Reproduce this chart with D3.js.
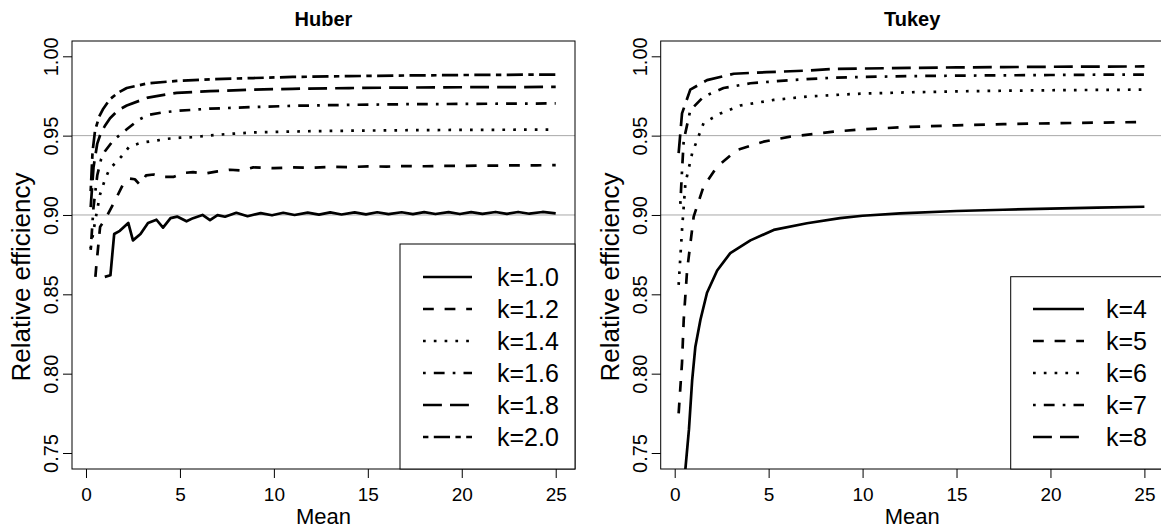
<!DOCTYPE html>
<html><head><meta charset="utf-8">
<script src="https://cdn.jsdelivr.net/npm/d3@7"></script>
<style>body{margin:0;background:#fff}</style>
</head><body>
<svg id="c" width="1161" height="528"></svg>
<script>
// ---------- Huber panel data ----------
const huberLabels = ["k=1.0","k=1.2","k=1.4","k=1.6","k=1.8","k=2.0"];
const hubX10 = [1.0,1.3,1.5,1.8,2.25,2.5,2.9,3.3,3.75,4.1,4.5,4.85,5.35,5.7,6.2,6.6,7.0,7.4,8.0,8.6,9.3,9.9,10.5,11.1,11.8,12.4,13.0,13.6,14.3,14.9,15.5,16.1,16.8,17.4,18.0,18.6,19.3,19.9,20.5,21.1,21.8,22.4,23.0,23.6,24.3,25.0];
const hubY10 = [0.861,0.862,0.888,0.890,0.895,0.884,0.888,0.895,0.897,0.892,0.898,0.899,0.896,0.898,0.900,0.8967,0.8999,0.8989,0.9014,0.8992,0.9012,0.8998,0.9014,0.9000,0.9015,0.9002,0.9016,0.9003,0.9016,0.9004,0.9017,0.9005,0.9017,0.9005,0.9018,0.9006,0.9018,0.9006,0.9018,0.9007,0.9019,0.9007,0.9019,0.9008,0.9019,0.9010];
const hubX12 = [0.5,0.55,0.75,1.1,1.5,2.0,2.3,2.6,2.87,3.2,3.6,4.0,4.65,5.2,5.7,6.3,7.0,7.66,8.3,8.9,10,11,12,13,14,15,16,17,18,19,20,21,22,23,24,25];
const hubY12 = [0.861,0.868,0.8925,0.899,0.908,0.920,0.923,0.9225,0.919,0.925,0.9255,0.924,0.924,0.9265,0.927,0.926,0.9275,0.9285,0.928,0.930,0.9295,0.9300,0.9298,0.9303,0.9302,0.9306,0.9305,0.9308,0.9307,0.9310,0.9309,0.9311,0.9311,0.9313,0.9313,0.9314];
const hubX14 = [0.25,0.5,0.75,1.0,1.25,1.5,1.9,2.3,2.8,3.2,3.8,4.3,5.0,5.7,6.5,7.5,8.9,10,12,14,16,18,20,22,25];
const hubY14 = [0.879,0.897,0.913,0.922,0.929,0.932,0.937,0.943,0.945,0.946,0.947,0.948,0.9487,0.949,0.950,0.951,0.952,0.9523,0.9528,0.9531,0.9533,0.9535,0.9536,0.9537,0.9538];
const hubX16 = [0.25,0.4,0.6,0.8,1.0,1.45,2.17,2.8,3.3,4.0,4.83,6.6,8.9,11,14,17,20,25];
const hubY16 = [0.878,0.905,0.925,0.935,0.940,0.947,0.954,0.960,0.963,0.9645,0.9656,0.967,0.968,0.9688,0.9694,0.9698,0.9700,0.9703];
const hubX18 = [0.25,0.4,0.6,0.8,1.0,1.28,1.7,2.17,3.3,4.83,6.6,8.9,11,14,17,20,25];
const hubY18 = [0.905,0.930,0.945,0.952,0.956,0.961,0.966,0.969,0.974,0.977,0.978,0.979,0.9795,0.980,0.9803,0.9805,0.9807];
const hubX20 = [0.25,0.35,0.48,0.7,0.92,1.28,1.7,2.17,3.3,4.83,6.6,8.9,11,14,17,20,25];
const hubY20 = [0.915,0.940,0.953,0.962,0.967,0.973,0.977,0.980,0.983,0.9845,0.9855,0.9863,0.9870,0.9875,0.9879,0.9882,0.9885];

// ---------- Tukey panel data ----------
const tukeyLabels = ["k=4","k=5","k=6","k=7","k=8"];
const tukX4 = [0.5,0.57,0.76,0.93,1.1,1.37,1.72,2.26,2.96,4.03,5.27,7.04,8.8,10,12,15,17.5,20,22.5,25];
const tukY4 = [0.72,0.740,0.765,0.796,0.817,0.834,0.851,0.865,0.876,0.884,0.8906,0.8948,0.898,0.8995,0.901,0.9025,0.9033,0.904,0.9046,0.9052];
const tukX5 = [0.21,0.39,0.48,0.66,1.01,1.54,2.26,3.32,4.73,6.15,8.46,10,12.5,15,17.5,20,22.5,25];
const tukY5 = [0.775,0.807,0.834,0.865,0.899,0.918,0.9305,0.941,0.9462,0.9494,0.9525,0.954,0.9555,0.9565,0.9572,0.9578,0.9582,0.9586];
const tukX6 = [0.21,0.39,0.57,0.93,1.54,2.43,3.49,5.27,7.04,8.46,10,12.5,15,17.5,20,22.5,25];
const tukY6 = [0.856,0.8906,0.920,0.939,0.958,0.964,0.969,0.9725,0.9746,0.9756,0.9765,0.9773,0.9779,0.9783,0.9786,0.9788,0.979];
const tukX7 = [0.3,0.39,0.48,0.83,1.54,2.6,4.03,6.15,8.46,10,12.5,15,17.5,20,22.5,25];
const tukY7 = [0.907,0.928,0.947,0.966,0.9746,0.980,0.983,0.985,0.9865,0.987,0.9875,0.9878,0.988,0.9882,0.9884,0.9885];
const tukX8 = [0.21,0.39,0.83,1.72,3.14,4.9,7.04,8.46,10,12.5,15,17.5,20,22.5,25];
const tukY8 = [0.939,0.964,0.979,0.985,0.989,0.990,0.991,0.992,0.9923,0.9927,0.993,0.9932,0.9934,0.9935,0.9936];

// ---------- axes ----------
const xTicks = [0,5,10,15,20,25];
const yTicks = [0.75,0.80,0.85,0.90,0.95,1.00];
const refLines = [0.90,0.95];
const xTitle = "Mean", yTitle = "Relative efficiency";

// R line types: solid, dashed, dotted, dotdash, longdash, twodash
const u = 2.7;
const ltys = [null, [4*u,4*u], [1*u,3*u], [1*u,3*u,4*u,3*u], [7*u,3*u], [2*u,2*u,6*u,2*u]];

const pack = (xs, ys) => xs.map((x,i)=>({x, y: ys[i]}));
const huberSeries = [pack(hubX10,hubY10),pack(hubX12,hubY12),pack(hubX14,hubY14),pack(hubX16,hubY16),pack(hubX18,hubY18),pack(hubX20,hubY20)];
const tukeySeries = [pack(tukX4,tukY4),pack(tukX5,tukY5),pack(tukX6,tukY6),pack(tukX7,tukY7),pack(tukX8,tukY8)];

const FONT = "'Liberation Sans', Arial, Helvetica, sans-serif";
const svg = d3.select("#c");
svg.append("rect").attr("width",1161).attr("height",528).attr("fill","#fff");

const TOP = 41, BOTTOM = 469;
const panels = [
  {id:"h", title:"Huber", left:72, right:575, series:huberSeries, labels:huberLabels,
   leg:{x0:400, y0:244, lx0:423, lx1:472, tx:497, row0:277}, ylabX:58, ytitleX:30},
  {id:"t", title:"Tukey", left:660.7, right:1163.7, series:tukeySeries, labels:tukeyLabels,
   leg:{x0:1010.7, y0:276.7, lx0:1033, lx1:1084, tx:1106, row0:309}, ylabX:647, ytitleX:619}
];

panels.forEach(p => {
  const x = d3.scaleLinear().domain([-0.745, 26.027]).range([p.left, p.right]);
  const y = d3.scaleLinear().domain([0.73992, 1.00964]).range([BOTTOM, TOP]);
  const g = svg.append("g");

  g.append("clipPath").attr("id","clip"+p.id).append("rect")
    .attr("x",p.left).attr("y",TOP).attr("width",p.right-p.left).attr("height",BOTTOM-TOP);

  // reference lines
  g.selectAll("line.ref").data(refLines).join("line")
    .attr("x1",p.left).attr("x2",p.right)
    .attr("y1",d=>y(d)).attr("y2",d=>y(d))
    .attr("stroke","#a8a8a8").attr("stroke-width",1);

  // curves
  const line = d3.line().x(d=>x(d.x)).y(d=>y(d.y));
  g.append("g").attr("clip-path","url(#clip"+p.id+")")
    .selectAll("path").data(p.series).join("path")
    .attr("d", line)
    .attr("fill","none").attr("stroke","#000").attr("stroke-width",2.7)
    .attr("stroke-linejoin","round").attr("stroke-linecap","butt")
    .attr("stroke-dasharray",(d,i)=>ltys[i] ? ltys[i].join(",") : null);

  // axes
  const xa = g.append("g").attr("transform",`translate(0,${BOTTOM})`)
    .call(d3.axisBottom(x).tickValues(xTicks).tickSize(9).tickFormat(d3.format("d")));
  xa.select(".domain").remove();
  xa.selectAll("line").attr("stroke","#000");
  xa.selectAll("text").attr("font-family",FONT).attr("font-size",19).attr("fill","#000")
    .attr("dy",null).attr("y",31.5);

  const ya = g.append("g").attr("transform",`translate(${p.left},0)`)
    .call(d3.axisLeft(y).tickValues(yTicks).tickSize(9).tickFormat(d3.format(".2f")));
  ya.select(".domain").remove();
  ya.selectAll("line").attr("stroke","#000");
  ya.selectAll("text").attr("font-family",FONT).attr("font-size",20).attr("fill","#000")
    .attr("text-anchor","middle").attr("dy",null).attr("x",0)
    .attr("transform",`translate(${p.ylabX - p.left},0) rotate(-90)`);

  // box
  g.append("rect").attr("x",p.left).attr("y",TOP).attr("width",p.right-p.left).attr("height",BOTTOM-TOP)
    .attr("fill","none").attr("stroke","#000").attr("stroke-width",1);

  // titles
  const cx = (p.left + p.right)/2;
  g.append("text").attr("x",cx).attr("y",26).attr("text-anchor","middle")
    .attr("font-family",FONT).attr("font-weight","bold").attr("font-size",20).text(p.title);
  g.append("text").attr("x",cx).attr("y",524).attr("text-anchor","middle")
    .attr("font-family",FONT).attr("font-size",22).text(xTitle);
  g.append("text").attr("transform",`translate(${p.ytitleX},${(TOP+BOTTOM)/2 + 22}) rotate(-90)`)
    .attr("text-anchor","middle").attr("font-family",FONT).attr("font-size",26).text(yTitle);

  // legend
  const L = p.leg, rowH = 32;
  g.append("rect").attr("x",L.x0).attr("y",L.y0).attr("width",p.right-L.x0).attr("height",BOTTOM-L.y0)
    .attr("fill","#fff").attr("stroke","#000").attr("stroke-width",1);
  const rows = g.selectAll("g.leg").data(p.labels).join("g")
    .attr("transform",(d,i)=>`translate(0,${L.row0 + i*rowH})`);
  rows.append("line").attr("x1",L.lx0).attr("x2",L.lx1).attr("y1",0).attr("y2",0)
    .attr("stroke","#000").attr("stroke-width",2.7).attr("stroke-linecap","butt")
    .attr("stroke-dasharray",(d,i)=>ltys[i] ? ltys[i].join(",") : null);
  rows.append("text").attr("x",L.tx).attr("y",9).attr("font-family",FONT).attr("font-size",25).text(d=>d);
});
</script>
</body></html>
